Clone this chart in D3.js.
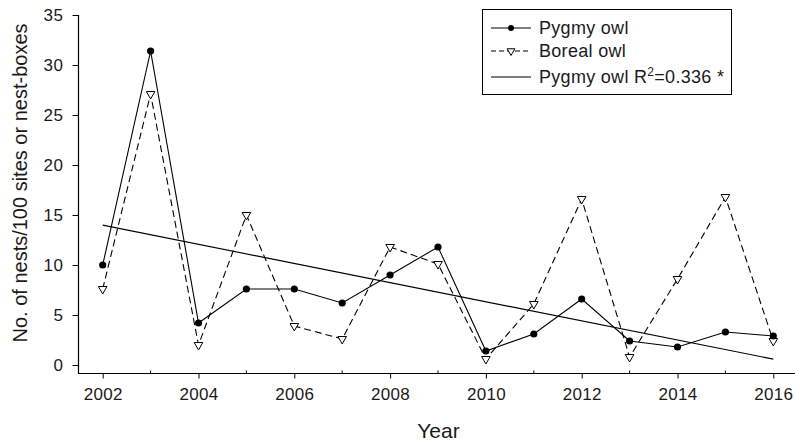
<!DOCTYPE html>
<html>
<head>
<meta charset="utf-8">
<script src="https://cdn.jsdelivr.net/npm/d3@7"></script>
<style>
  html, body { margin: 0; padding: 0; background: #fff; }
  svg { display: block; }
  text { font-family: "Liberation Sans", Arial, sans-serif; fill: #1a1a1a; }
</style>
</head>
<body>
<svg id="chart" width="795" height="441"></svg>
<script>
// ---- data ----
const years = [2002, 2003, 2004, 2005, 2006, 2007, 2008, 2009, 2010, 2011, 2012, 2013, 2014, 2015, 2016];
const pygmyOwl = [10.0, 31.4, 4.2, 7.6, 7.6, 6.2, 9.0, 11.8, 1.4, 3.1, 6.6, 2.4, 1.8, 3.3, 2.9];
const borealOwl = [7.6, 27.1, 2.0, 15.0, 3.9, 2.6, 11.8, 10.1, 0.6, 6.1, 16.6, 0.8, 8.6, 16.8, 2.4];
const xTickLabels = [2002, 2004, 2006, 2008, 2010, 2012, 2014, 2016];
const xMinorTicks = [2003, 2005, 2007, 2009, 2011, 2013, 2015];
const yTickLabels = [0, 5, 10, 15, 20, 25, 30, 35];
const legendLabels = ["Pygmy owl", "Boreal owl", "Pygmy owl R"];
const r2Text = "=0.336 *";

// ---- regression (least squares fit of pygmy owl) ----
const mx = d3.mean(years), my = d3.mean(pygmyOwl);
const slope = d3.sum(years, (x, i) => (x - mx) * (pygmyOwl[i] - my)) / d3.sum(years, x => (x - mx) ** 2);
const intercept = my - slope * mx;
const fitYears = [years[0], years[years.length - 1]];

// ---- layout ----
const svg = d3.select("#chart");
const axisX0 = 78.5, axisY0 = 373.5;
const x = d3.scaleLinear().domain([2002, 2016]).range([102.7, 773.3]);
const y = d3.scaleLinear().domain([0, 35]).range([365, 15]);

// Y axis
const yAxis = svg.append("g").attr("transform", `translate(${axisX0},0)`)
  .call(d3.axisLeft(y).tickValues(yTickLabels).tickSize(6).tickPadding(9));
yAxis.select(".domain").remove();
yAxis.selectAll(".tick line").attr("stroke", "#000");
yAxis.selectAll(".tick text").attr("font-size", 17).attr("letter-spacing", 0.5)
  .style("font-family", '"Liberation Sans", Arial, sans-serif').attr("fill", "#1a1a1a");
svg.append("line").attr("x1", axisX0).attr("x2", axisX0).attr("y1", y(35)).attr("y2", axisY0 + 0.5)
  .attr("stroke", "#000").attr("stroke-width", 1.2);

// X axis
const xAxis = svg.append("g").attr("transform", `translate(0,${axisY0})`)
  .call(d3.axisBottom(x).tickValues(xTickLabels).tickFormat(d3.format("d")).tickSize(5).tickPadding(9));
xAxis.select(".domain").remove();
xAxis.selectAll(".tick line").attr("stroke", "#000");
xAxis.selectAll(".tick text").attr("font-size", 17).attr("letter-spacing", 0.3)
  .style("font-family", '"Liberation Sans", Arial, sans-serif').attr("fill", "#1a1a1a");
svg.append("g").selectAll("line").data(xMinorTicks).join("line")
  .attr("x1", d => x(d)).attr("x2", d => x(d))
  .attr("y1", axisY0).attr("y2", axisY0 - 3).attr("stroke", "#000");
svg.append("line").attr("x1", axisX0).attr("x2", 795).attr("y1", axisY0).attr("y2", axisY0)
  .attr("stroke", "#000").attr("stroke-width", 1.2);

// Axis titles
svg.append("text").attr("x", 438.5).attr("y", 438).attr("text-anchor", "middle")
  .attr("font-size", 21).text("Year");
svg.append("text").attr("transform", `translate(27,${183}) rotate(-90)`).attr("text-anchor", "middle")
  .attr("font-size", 20).text("No. of nests/100 sites or nest-boxes");

// regression line
const line = d3.line().x(d => x(d[0])).y(d => y(d[1]));
svg.append("path").datum(fitYears.map(yr => [yr, intercept + slope * yr]))
  .attr("d", line).attr("fill", "none").attr("stroke", "#000").attr("stroke-width", 1.2);

// boreal owl
svg.append("path").datum(years.map((yr, i) => [yr, borealOwl[i]]))
  .attr("d", line).attr("fill", "none").attr("stroke", "#000").attr("stroke-width", 1.1)
  .attr("stroke-dasharray", "7,4");

// pygmy owl
svg.append("path").datum(years.map((yr, i) => [yr, pygmyOwl[i]]))
  .attr("d", line).attr("fill", "none").attr("stroke", "#000").attr("stroke-width", 1.1);

const tri = d3.symbol().type(d3.symbolTriangle).size(32);
svg.append("g").selectAll("path").data(years.map((yr, i) => [yr, borealOwl[i]])).join("path")
  .attr("d", tri).attr("transform", d => `translate(${x(d[0])},${y(d[1])}) rotate(180)`)
  .attr("fill", "#fff").attr("stroke", "#000").attr("stroke-width", 1);

svg.append("g").selectAll("circle").data(years.map((yr, i) => [yr, pygmyOwl[i]])).join("circle")
  .attr("cx", d => x(d[0])).attr("cy", d => y(d[1])).attr("r", 3.6).attr("fill", "#000");

// ---- legend ----
const lg = svg.append("g");
lg.append("rect").attr("x", 482.5).attr("y", 9.5).attr("width", 249).attr("height", 85)
  .attr("fill", "#fff").attr("stroke", "#000").attr("stroke-width", 1);
const rowsY = [28, 51, 77];
const lx1 = 491, lx2 = 531, lmid = 511;
// row 1
lg.append("line").attr("x1", lx1).attr("x2", lx2).attr("y1", rowsY[0]).attr("y2", rowsY[0]).attr("stroke", "#000");
lg.append("circle").attr("cx", lmid).attr("cy", rowsY[0]).attr("r", 3).attr("fill", "#000");
// row 2
lg.append("line").attr("x1", lx1).attr("x2", lx2).attr("y1", rowsY[1]).attr("y2", rowsY[1]).attr("stroke", "#000")
  .attr("stroke-dasharray", "5,3");
lg.append("path").attr("d", d3.symbol().type(d3.symbolTriangle).size(26))
  .attr("transform", `translate(${lmid},${rowsY[1]}) rotate(180)`).attr("fill", "#fff").attr("stroke", "#000");
// row 3
lg.append("line").attr("x1", lx1).attr("x2", lx2).attr("y1", rowsY[2]).attr("y2", rowsY[2]).attr("stroke", "#000");

lg.selectAll("text.lab").data(legendLabels.slice(0, 2)).join("text").attr("class", "lab")
  .attr("x", 539).attr("y", (d, i) => rowsY[i] + 6).attr("font-size", 18).attr("letter-spacing", 0.3).text(d => d);
const t3 = lg.append("text").attr("x", 539).attr("y", rowsY[2] + 6).attr("font-size", 18).attr("letter-spacing", 0.3);
t3.append("tspan").text(legendLabels[2]);
t3.append("tspan").attr("dy", -7).attr("font-size", 12).text("2");
t3.append("tspan").attr("dy", 7).text(r2Text);
</script>
</body>
</html>
